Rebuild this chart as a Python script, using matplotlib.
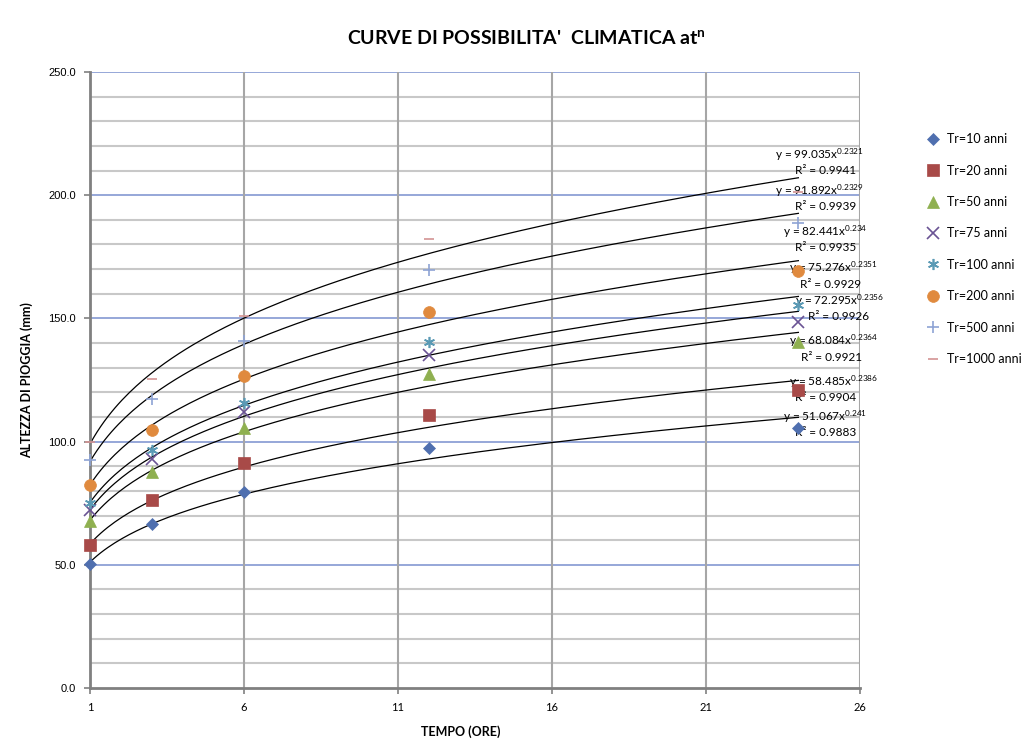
import matplotlib.pyplot as plt
import numpy as np

plt.rcParams['font.family'] = ['Lato', 'DejaVu Sans']
plt.rcParams['mathtext.fontset'] = 'custom'
plt.rcParams['mathtext.rm'] = 'Lato'
plt.rcParams['mathtext.it'] = 'Lato:italic'
plt.rcParams['mathtext.bf'] = 'Lato:bold'

# durations (hours)
ore = [1, 3, 6, 12, 24]

# rainfall depth (mm) for each return period
tr_labels = ["Tr=10 anni", "Tr=20 anni", "Tr=50 anni", "Tr=75 anni",
             "Tr=100 anni", "Tr=200 anni", "Tr=500 anni", "Tr=1000 anni"]
h_tr10 = [50.3, 66.6, 79.5, 97.4, 105.5]
h_tr20 = [58.0, 76.3, 91.3, 110.8, 121.0]
h_tr50 = [67.8, 87.7, 105.5, 127.4, 140.4]
h_tr75 = [72.2, 92.9, 112.0, 135.0, 148.5]
h_tr100 = [75.0, 96.6, 115.7, 140.4, 155.4]
h_tr200 = [82.4, 104.7, 126.6, 152.6, 169.2]
h_tr500 = [92.5, 117.3, 140.8, 169.6, 188.7]
h_tr1000 = [99.8, 125.4, 151.0, 182.2, 201.3]
series = [h_tr10, h_tr20, h_tr50, h_tr75, h_tr100, h_tr200, h_tr500, h_tr1000]

# power trendlines y = a * x^n (top to bottom as labelled)
fit_a = [99.035, 91.892, 82.441, 75.276, 72.295, 68.084, 58.485, 51.067]
fit_n = ["0.2321", "0.2329", "0.234", "0.2351", "0.2356", "0.2364", "0.2386", "0.241"]
fit_r2 = ["0.9941", "0.9939", "0.9935", "0.9929", "0.9926", "0.9921", "0.9904", "0.9883"]

# label placement (data coords)
eq_pos = [(23.24, 216.3), (23.24, 202.0), (23.5, 185.0), (23.7, 170.5),
          (23.9, 157.2), (23.7, 140.9), (23.7, 124.2), (23.5, 110.0)]
r2_pos = [(23.9, 210.2), (23.9, 195.5), (23.9, 178.6), (24.05, 163.6),
          (24.3, 150.8), (24.1, 134.0), (23.9, 117.7), (23.9, 103.6)]

markers = ['D', 's', '^', 'x', (6, 2, 0), 'o', '+', '_']
colors = ['#4F6FAF', '#A84A48', '#8FB050', '#6A5394', '#5B9AB5', '#E08A3E', '#8EA3D4', '#D39393']
sizes = [6.5, 8, 8, 8, 8, 8.5, 9, 7]

fig = plt.figure(figsize=(10.25, 7.4), dpi=100)
ax = fig.add_axes([0.0878, 0.0703, 0.7512, 0.8324])

# gridlines
for yv in np.arange(10, 251, 10):
    if yv % 50 == 0:
        ax.axhline(yv, color='#8EA0D6', lw=1.3, zorder=1)
    else:
        ax.axhline(yv, color='#C8C8C8', lw=1.5, zorder=1)
for xv in [6, 11, 16, 21, 26]:
    ax.axvline(xv, color='#A6A6A6', lw=1.5, zorder=1)

# trendlines
xs = np.linspace(1, 24, 200)
for a, n in zip(fit_a, fit_n):
    ax.plot(xs, a * xs ** float(n), color='black', lw=0.9, zorder=2)

# data points
for vals, lab, m, c, s in zip(series, tr_labels, markers, colors, sizes):
    ax.plot(ore, vals, linestyle='none', marker=m, color=c, markersize=s,
            markeredgewidth=1.2 if m in ('x', '+', '_') or isinstance(m, tuple) else 0.5,
            label=lab, zorder=6, clip_on=False)

# trendline labels
for a, n, r2, ep, rp in zip(fit_a, fit_n, fit_r2, eq_pos, r2_pos):
    ax.text(ep[0], ep[1], f"y = {a:.3f}x$^{{\\mathrm{{{n}}}}}$", fontsize=8.5,
            ha='left', va='center', zorder=3)
    ax.text(rp[0], rp[1], f"R\u00b2 = {r2}", fontsize=8.5, ha='left', va='center', zorder=3)

ax.set_xlim(1, 26)
ax.set_ylim(0, 250)
ax.set_xticks([1, 6, 11, 16, 21, 26])
ax.set_yticks(np.arange(0, 251, 50))
ax.set_yticklabels([f"{v:.1f}" for v in np.arange(0, 251, 50)], family='Liberation Sans')
ax.tick_params(axis='both', labelsize=8, length=4, color='#808080', width=1.2, pad=6)

for side in ['top', 'right']:
    ax.spines[side].set_visible(False)
for side in ['left', 'bottom']:
    ax.spines[side].set_color('#808080')
    ax.spines[side].set_linewidth(2)
    ax.spines[side].set_zorder(5)

ax.set_xlabel("TEMPO (ORE)", fontsize=9, fontweight='bold')
ax.xaxis.set_label_coords(0.482, -0.06)
ax.set_ylabel("ALTEZZA DI PIOGGIA (mm)", fontsize=9, fontweight='bold')
ax.yaxis.set_label_coords(-0.074, 0.5)

fig.text(0.514, 0.949, "CURVE DI POSSIBILITA'  CLIMATICA at$^{\\mathbf{n}}$",
         ha='center', va='center', fontsize=14, fontweight='bold')

ax.legend(loc='upper left', bbox_to_anchor=(0.893, 0.835), bbox_transform=fig.transFigure,
          frameon=False, fontsize=9, labelspacing=1.55, handlelength=1.0,
          handletextpad=0.6, numpoints=1)

plt.savefig("out.png", dpi=100)
plt.close()
